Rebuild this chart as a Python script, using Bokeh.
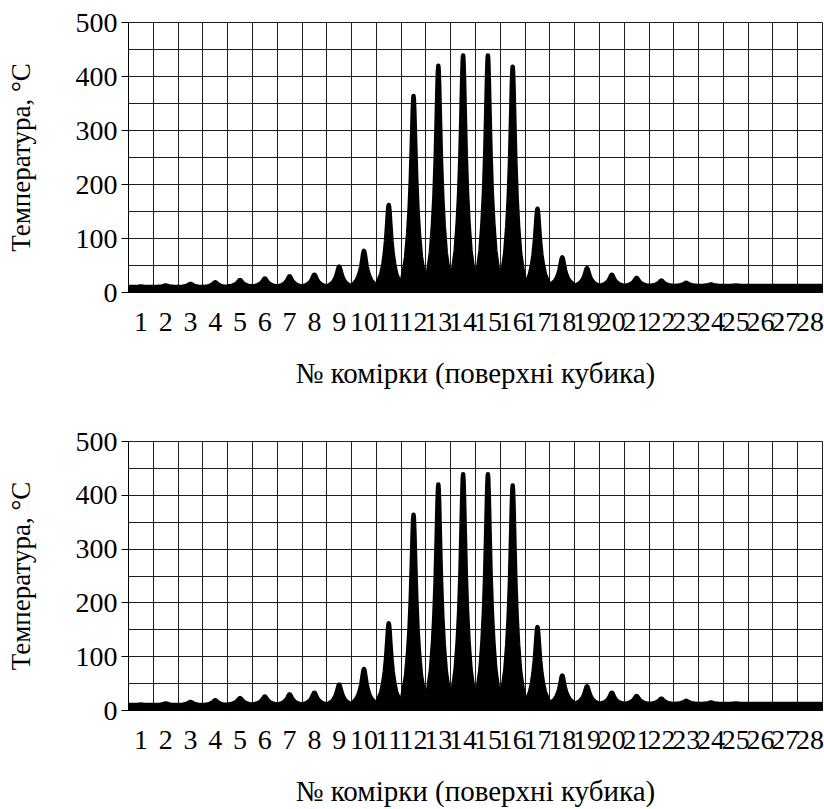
from bokeh.plotting import figure
from bokeh.layouts import column
from bokeh.models import FixedTicker, ColumnDataSource
from bokeh.embed import file_html
from bokeh.resources import INLINE

# ---- data ----
cells = list(range(1, 29))
peak_temp = [11, 13, 16, 19, 23, 26, 30, 33, 48, 77, 162, 364, 420, 439,
             439, 418, 155, 65, 45, 33, 27, 22, 18, 15, 13, 12, 12, 12]
base_temp = [10, 10, 10, 10, 11, 11, 11, 11, 11, 12, 12, 13, 13, 13,
             13, 13, 13, 13, 12, 12, 12, 12, 12, 12, 12, 12, 12, 12]
y_ticks = [0, 100, 200, 300, 400, 500]
y_minor = [50, 150, 250, 350, 450]
x_label = "№ комірки (поверхні кубика)"
y_label = "Температура, °C"

# ---- peak glyph shape (style: relative offset within a cell, relative height) ----
SHAPE_DX = [-0.5, -0.45, -0.4, -0.3, -0.22, -0.16, -0.11, -0.07, -0.035, -0.015, 0.0,
            0.015, 0.035, 0.07, 0.11, 0.16, 0.22, 0.3, 0.4, 0.45, 0.5]
SHAPE_F = [0.0, 0.035, 0.07, 0.15, 0.27, 0.4, 0.56, 0.74, 0.91, 0.98, 1.0,
           0.98, 0.91, 0.74, 0.56, 0.4, 0.27, 0.15, 0.07, 0.035, 0.0]

xs, ys = [], []
for c, pk, b in zip(cells, peak_temp, base_temp):
    px = [c - 0.5] + [c + d for d in SHAPE_DX] + [c + 0.5]
    py = [0] + [b + (pk - b) * f for f in SHAPE_F] + [0]
    xs.append(px)
    ys.append(py)

FONT = "Liberation Serif"
GRID = "#1e1e1e"


def make_panel(height, border_bottom):
    p = figure(width=824, height=height, output_backend="svg", toolbar_location=None,
               x_range=(0.5, 28.5), y_range=(0, 500),
               min_border_left=128, min_border_right=2, min_border_top=22,
               min_border_bottom=border_bottom)
    src = ColumnDataSource(dict(xs=xs, ys=ys))
    p.patches("xs", "ys", source=src, fill_color="black", line_color="black",
              line_width=4.5, line_join="round")

    # y axis
    p.yaxis.ticker = FixedTicker(ticks=y_ticks, minor_ticks=y_minor)
    p.yaxis.major_label_text_font = FONT
    p.yaxis.major_label_text_font_size = "28px"
    p.yaxis.major_label_text_color = "black"
    p.yaxis.major_tick_out = 7
    p.yaxis.major_tick_in = 0
    p.yaxis.major_tick_line_color = "black"
    p.yaxis.minor_tick_line_color = None
    p.yaxis.major_label_standoff = 4
    p.yaxis.axis_line_color = "black"
    p.yaxis.axis_label = y_label
    p.yaxis.axis_label_text_font = FONT
    p.yaxis.axis_label_text_font_size = "27px"
    p.yaxis.axis_label_text_font_style = "normal"
    p.yaxis.axis_label_text_color = "black"
    p.yaxis.axis_label_standoff = 37

    # x axis
    p.xaxis.ticker = FixedTicker(ticks=cells)
    p.xaxis.major_label_text_font = FONT
    p.xaxis.major_label_text_font_size = "28px"
    p.xaxis.major_label_text_color = "black"
    p.xaxis.major_tick_line_color = None
    p.xaxis.minor_tick_line_color = None
    p.xaxis.major_tick_out = 0
    p.xaxis.major_tick_in = 0
    p.xaxis.major_label_standoff = 20
    p.xaxis.axis_line_color = "black"
    p.xaxis.axis_label = x_label
    p.xaxis.axis_label_text_font = FONT
    p.xaxis.axis_label_text_font_size = "29px"
    p.xaxis.axis_label_text_font_style = "normal"
    p.xaxis.axis_label_text_color = "black"
    p.xaxis.axis_label_standoff = 23

    # grid
    p.xgrid.ticker = FixedTicker(ticks=[c + 0.5 for c in [0] + cells])
    p.xgrid.grid_line_color = GRID
    p.xgrid.grid_line_width = 1
    p.ygrid.grid_line_color = GRID
    p.ygrid.grid_line_width = 1
    p.ygrid.minor_grid_line_color = GRID
    p.ygrid.minor_grid_line_width = 1
    p.outline_line_color = GRID
    p.background_fill_color = "white"
    p.border_fill_color = "white"
    return p


p1 = make_panel(419, 127)
p2 = make_panel(390, 98)
layout = column(p1, p2, spacing=0)

open("out.html", "w").write(file_html(layout, INLINE))
